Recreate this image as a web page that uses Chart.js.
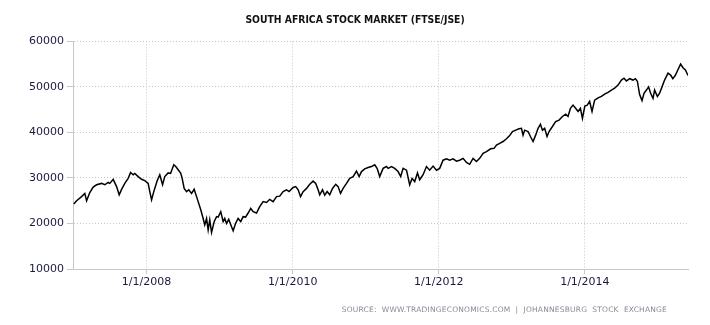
<!DOCTYPE html>
<html>
<head>
<meta charset="utf-8">
<script src="https://cdn.jsdelivr.net/npm/chart.js@4.4.1/dist/chart.umd.min.js"></script>
<style>
  html, body { margin: 0; padding: 0; background: #ffffff; }
  #wrap { position: relative; width: 710px; height: 325px; }
</style>
</head>
<body>
<div id="wrap"><canvas id="chart" width="710" height="325"></canvas></div>
<script>
// FTSE/JSE All Share index, sampled closes
const dates = [
  '2007-01-02','2007-01-16','2007-02-10','2007-02-26','2007-03-07','2007-03-23','2007-04-09','2007-04-26',
  '2007-05-21','2007-06-06','2007-06-23','2007-07-01','2007-07-18','2007-08-04','2007-08-17','2007-08-29',
  '2007-09-14','2007-10-01','2007-10-13','2007-10-26','2007-11-03','2007-11-20','2007-12-07','2007-12-23',
  '2008-01-09','2008-01-17','2008-01-26','2008-02-06','2008-02-23','2008-03-07','2008-03-21','2008-04-01',
  '2008-04-18','2008-04-30','2008-05-16','2008-05-26','2008-06-07','2008-06-20','2008-06-27','2008-07-07',
  '2008-07-19','2008-07-30','2008-08-13','2008-08-26','2008-09-07','2008-09-15','2008-09-28','2008-10-10',
  '2008-10-18','2008-10-27','2008-11-04','2008-11-12','2008-11-21','2008-12-04','2008-12-16','2008-12-24',
  '2009-01-06','2009-01-18','2009-01-26','2009-02-04','2009-02-15','2009-03-01','2009-03-09','2009-03-21',
  '2009-04-03','2009-04-16','2009-04-28','2009-05-10','2009-05-23','2009-06-05','2009-06-17','2009-07-04',
  '2009-07-20','2009-08-06','2009-08-23','2009-09-08','2009-09-25','2009-10-12','2009-10-28','2009-11-14',
  '2009-12-01','2009-12-14',
  '2010-01-03','2010-01-16','2010-01-28','2010-02-09','2010-02-22','2010-03-11','2010-03-27','2010-04-13',
  '2010-04-26','2010-05-08','2010-05-16','2010-05-30','2010-06-10','2010-06-22','2010-07-05','2010-07-19',
  '2010-08-04','2010-08-16','2010-08-28','2010-09-10','2010-09-27','2010-10-13','2010-10-30','2010-11-16',
  '2010-11-29','2010-12-11','2010-12-27',
  '2011-01-13','2011-01-30','2011-02-15','2011-02-27','2011-03-12','2011-03-29','2011-04-15','2011-04-23',
  '2011-05-10','2011-05-26','2011-06-12','2011-06-25','2011-07-07','2011-07-24','2011-08-09','2011-08-21',
  '2011-09-03','2011-09-17','2011-09-28','2011-10-15','2011-11-01','2011-11-17','2011-12-04','2011-12-21',
  '2012-01-06','2012-01-23','2012-02-09','2012-02-25','2012-03-13','2012-03-30','2012-04-15','2012-05-02',
  '2012-05-19','2012-06-04','2012-06-21','2012-07-08','2012-07-24','2012-08-10','2012-08-27','2012-09-17',
  '2012-10-04','2012-10-16','2012-11-01','2012-11-18','2012-12-05','2012-12-21',
  '2013-01-04','2013-01-20','2013-02-06','2013-02-18','2013-02-26','2013-03-06','2013-03-23','2013-04-04',
  '2013-04-17','2013-04-30','2013-05-12','2013-05-24','2013-06-03','2013-06-14','2013-06-26','2013-07-06',
  '2013-07-23','2013-08-08','2013-08-25','2013-09-11','2013-09-27','2013-10-09','2013-10-21','2013-11-03',
  '2013-11-16','2013-11-28','2013-12-10','2013-12-20',
  '2014-01-01','2014-01-13','2014-01-25','2014-02-06','2014-02-19','2014-03-08','2014-03-25','2014-04-10',
  '2014-04-27','2014-05-14','2014-05-30','2014-06-16','2014-07-03','2014-07-16','2014-07-28','2014-08-13',
  '2014-08-30','2014-09-11','2014-09-21','2014-10-02','2014-10-14','2014-10-24','2014-11-05','2014-11-16',
  '2014-11-26','2014-12-08','2014-12-16','2014-12-30',
  '2015-01-10','2015-01-22','2015-02-04','2015-02-21','2015-03-06','2015-03-17','2015-03-29','2015-04-11',
  '2015-04-25','2015-05-07','2015-05-19','2015-06-01'
];

const values = [
  24300,25000,25900,26600,25000,26800,28000,28500,
  28800,28500,29000,28800,29700,28100,26300,27500,
  28800,29900,31200,30700,31000,30300,29700,29400,
  28800,27000,25200,27000,29400,30700,28500,30300,
  31100,31000,32900,32500,31800,31000,29900,27700,
  27000,27400,26600,27500,25900,24800,23000,21100,
  19700,21100,18600,20800,18000,20400,21500,21400,
  22600,20400,21100,20000,20900,19300,18400,20000,
  21100,20400,21500,21400,22300,23300,22600,22300,
  23700,24800,24600,25300,24800,25900,26000,27000,
  27400,27000,
  27900,28100,27400,25900,27000,27700,28600,29300,
  28800,27400,26300,27400,26200,27000,26300,27700,
  28600,28100,26600,27700,28800,29900,30300,31500,
  30300,31400,32000,
  32300,32500,32900,32100,30300,32100,32500,32100,
  32500,32100,31400,30300,32100,31700,28500,29900,
  29200,31100,29600,30700,32500,31700,32600,31700,
  32100,33900,34200,33900,34200,33700,33900,34300,
  33400,33000,34300,33600,34300,35400,35800,36400,
  36500,37200,37600,38000,38600,39300,
  40200,40500,40800,40900,39400,40500,40200,39100,
  38000,39400,40900,41800,40500,40900,39100,40200,
  41300,42400,42700,43500,44000,43500,45300,46000,
  45300,44600,45300,43100,
  45800,46000,46800,44600,47100,47600,47900,48400,
  48800,49300,49700,50400,51500,51900,51300,51800,
  51500,51800,51200,48300,47000,48600,49300,50000,
  48600,47500,49300,47900,
  48600,50000,51500,53000,52600,51800,52500,53700,
  55000,54200,53700,52500
];

// Axis settings
const xTickDates = ['2008-01-01', '2010-01-01', '2012-01-01', '2014-01-01'];
const yTicks = [10000, 20000, 30000, 40000, 50000, 60000];
const xStart = '2006-12-29';
const xEnd = '2015-06-01';

const titleText = 'SOUTH AFRICA STOCK MARKET (FTSE/JSE)';
const sourceText = 'SOURCE:  WWW.TRADINGECONOMICS.COM  |  JOHANNESBURG  STOCK  EXCHANGE';

const ts = d => Date.parse(d + 'T00:00:00Z');
const points = dates.map((d, i) => ({ x: ts(d), y: values[i] }));

// Small grey source line under the plot, right aligned
const sourcePlugin = {
  id: 'sourceNote',
  afterDraw(chart) {
    const ctx = chart.ctx;
    ctx.save();
    ctx.font = '7.5px "DejaVu Sans"';
    ctx.fillStyle = '#8a8a99';
    ctx.textAlign = 'right';
    ctx.textBaseline = 'middle';
    if ('letterSpacing' in ctx) ctx.letterSpacing = '0.2px';
    ctx.fillText(sourceText, 667, 310);
    ctx.restore();
  }
};

new Chart(document.getElementById('chart'), {
  type: 'line',
  data: {
    datasets: [{
      data: points,
      borderColor: '#000000',
      borderWidth: 1.5,
      pointRadius: 0,
      tension: 0,
      fill: false
    }]
  },
  options: {
    responsive: false,
    animation: false,
    // equal side padding keeps the title centred on the canvas
    layout: { padding: { left: 22, right: 22, top: 0, bottom: 0 } },
    plugins: {
      legend: { display: false },
      tooltip: { enabled: false },
      title: {
        display: true,
        text: titleText,
        color: '#111111',
        font: { family: 'DejaVu Sans Condensed', size: 10.3, weight: 'bold' },
        padding: { top: 14, bottom: 15 }
      }
    },
    scales: {
      x: {
        type: 'linear',
        min: ts(xStart),
        max: ts(xEnd),
        afterBuildTicks: s => { s.ticks = xTickDates.map(d => ({ value: ts(d) })); },
        afterFit: s => { s.height = 56; },
        ticks: {
          color: '#1a1a40',
          font: { family: 'DejaVu Sans', size: 11 },
          padding: 2,
          maxRotation: 0,
          callback: v => {
            const d = new Date(v);
            return (d.getUTCMonth() + 1) + '/' + d.getUTCDate() + '/' + d.getUTCFullYear();
          }
        },
        grid: { color: '#c8c8c8', tickColor: '#c8c8c8', tickLength: 5, drawOnChartArea: true },
        border: { color: '#c8c8c8', width: 1, dash: [1, 2] }
      },
      y: {
        min: 10000,
        max: 60000,
        afterBuildTicks: s => { s.ticks = yTicks.map(v => ({ value: v })); },
        afterFit: s => { s.width = 51; },
        ticks: {
          color: '#1a1a40',
          font: { family: 'DejaVu Sans', size: 11 },
          padding: 3,
          callback: v => String(v)
        },
        grid: { color: '#c8c8c8', tickColor: '#c8c8c8', tickLength: 6 },
        border: { color: '#c8c8c8', width: 1, dash: [1, 2] }
      }
    }
  },
  plugins: [sourcePlugin]
});
</script>
</body>
</html>
